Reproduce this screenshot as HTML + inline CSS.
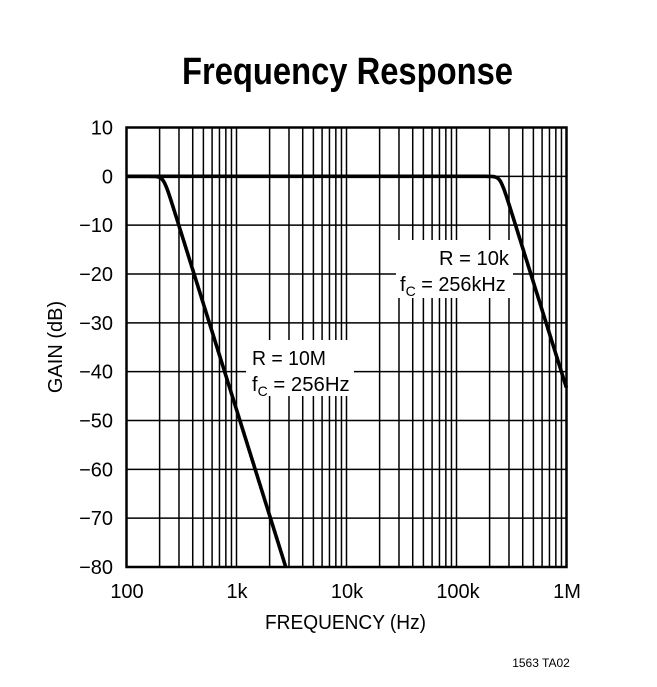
<!DOCTYPE html>
<html><head><style>
body{margin:0;background:#fff;}
svg text{font-family:"Liberation Sans Narrow","Liberation Sans",sans-serif;fill:#000;}
</style></head><body>
<svg id="s" width="657" height="682" xmlns="http://www.w3.org/2000/svg">
<text x="182" y="84" font-size="38" font-weight="bold" textLength="331" lengthAdjust="spacingAndGlyphs">Frequency Response</text>
<g id="grid" stroke="#000" stroke-width="1.5"></g>
<rect x="126.5" y="127.5" width="440" height="439.5" fill="none" stroke="#000" stroke-width="2.5"/>
<path id="c1" fill="none" stroke="#000" stroke-width="3.6"/>
<path id="c2" fill="none" stroke="#000" stroke-width="3.6"/>
<rect x="396" y="240" width="117" height="58" fill="#fff"/>
<rect x="246" y="340" width="108" height="56" fill="#fff"/>
<text x="509" y="265" text-anchor="end" font-size="20" textLength="70" lengthAdjust="spacingAndGlyphs">R = 10k</text>
<text x="400" y="291" font-size="20">f<tspan font-size="14" dy="5">C</tspan><tspan dy="-5" textLength="90" lengthAdjust="spacingAndGlyphs"> = 256kHz</tspan></text>
<text x="252" y="365" font-size="20" textLength="74" lengthAdjust="spacingAndGlyphs">R = 10M</text>
<text x="252" y="391" font-size="20">f<tspan font-size="14" dy="5">C</tspan><tspan dy="-5" textLength="82" lengthAdjust="spacingAndGlyphs"> = 256Hz</tspan></text>
<g id="yl" font-size="20" text-anchor="end"></g>
<g font-size="20" text-anchor="middle">
<text x="127" y="598">100</text><text x="237" y="598">1k</text><text x="347" y="598">10k</text><text x="458" y="598">100k</text><text x="567" y="598">1M</text>
</g>
<text x="265" y="629" font-size="20" textLength="161" lengthAdjust="spacingAndGlyphs">FREQUENCY (Hz)</text>
<text transform="translate(62,347) rotate(-90)" text-anchor="middle" font-size="20">GAIN (dB)</text>
<text x="541" y="667" text-anchor="middle" font-size="12">1563 TA02</text>
</svg>
<script>
var X0=126.5,DEC=110,Y0=127.5,PDB=439.5/90;
var g=document.getElementById('grid'),h='';
for(var d=0;d<4;d++)for(var m=1;m<=10;m++){if(d>0&&m==1)continue;var x=X0+DEC*(d+Math.log10(m));h+='<line x1="'+x+'" x2="'+x+'" y1="127.5" y2="567"/>';}
for(var v=10;v>=-80;v-=10){var y=Y0+(10-v)*PDB;h+='<line x1="126.5" x2="566.5" y1="'+y+'" y2="'+y+'"/>';}
g.innerHTML=h;
var yl='';for(var v=10;v>=-80;v-=10){var y=Y0+(10-v)*PDB+7;yl+='<text x="113" y="'+y+'">'+(v<0?'\u2212'+(-v):v)+'</text>';}
document.getElementById('yl').innerHTML=yl;
function curve(fc,id){var s=22,k=72/s,p='';for(var lx=2;lx<=6.0001;lx+=0.003){var f=Math.pow(10,lx);var gdb=-k*Math.log10(1+Math.pow(f/fc,s));if(gdb<-80)break;var x=X0+(lx-2)*DEC,y=Y0+(10-gdb)*PDB;p+=(p?'L':'M')+x.toFixed(1)+' '+y.toFixed(1);}
document.getElementById(id).setAttribute('d',p);}
curve(217,'c1');curve(250000,'c2');
</script>
</body></html>
